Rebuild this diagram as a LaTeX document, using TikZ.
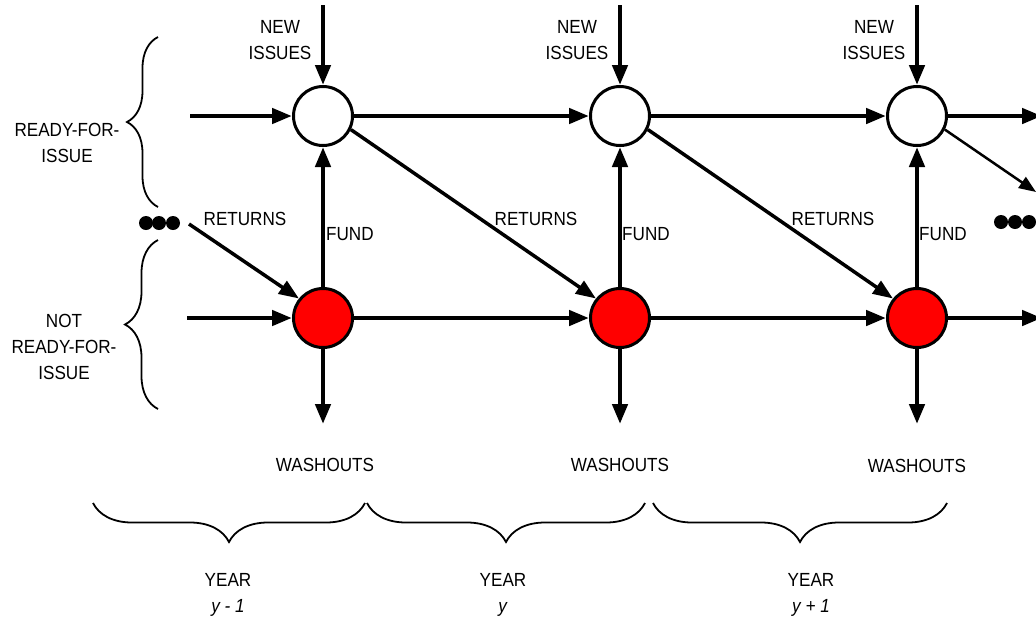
\documentclass[tikz,border=0pt]{standalone}
\usepackage{fontspec}
\setmainfont{Liberation Sans}[FakeStretch=0.9]
\usetikzlibrary{arrows.meta,decorations.pathreplacing}
\definecolor{nodered}{RGB}{255,0,0}
\tikzset{
  stock/.style={circle,draw=black,line width=3pt,minimum size=59pt,inner sep=0pt},
  readystock/.style={stock,fill=white},
  notreadystock/.style={stock,fill=nodered},
  flow/.style={line width=4.5pt,-{Triangle[length=20pt,width=15pt]}},
  retflow/.style={line width=3.5pt,-{Triangle[length=20pt,width=15pt]}},
  thinflow/.style={line width=2.5pt,-{Triangle[length=17pt,width=13pt]}},
  lbl/.style={font=\fontsize{19}{26}\selectfont,align=center,inner sep=0pt},
  bigbrace/.style={decorate,line width=1.8pt},
  dot/.style={circle,fill=black,minimum size=14pt,inner sep=0pt}
}
\begin{document}
\begin{tikzpicture}[x=1pt,y=-1pt]
\useasboundingbox (0,0) rectangle (1036,622);

% stocks
\node[readystock] (w1) at (323,116) {};
\node[readystock] (w2) at (620,116) {};
\node[readystock] (w3) at (917,116) {};
\node[notreadystock] (r1) at (323,318) {};
\node[notreadystock] (r2) at (620,318) {};
\node[notreadystock] (r3) at (917,318) {};

% free ends
\coordinate (tin) at (190,116);
\coordinate (bin) at (187,318);
\coordinate (tout) at (1042,116);
\coordinate (bout) at (1042,318);
\coordinate (n1) at (323,5);
\coordinate (n2) at (620,5);
\coordinate (n3) at (917,5);
\coordinate (o1) at (323,424);
\coordinate (o2) at (620,424);
\coordinate (o3) at (917,424);
\coordinate (retin) at (189,224);
\coordinate (retout) at (1036,192);

% dots
\node[dot] (d1) at (146,223) {};
\node[dot] (d2) at (159,223) {};
\node[dot] (d3) at (173,223) {};
\node[dot] (e1) at (1001,222) {};
\node[dot] (e2) at (1015,222) {};
\node[dot] (e3) at (1029,222) {};

% horizontal flows
\draw[flow] (tin) -- (w1);
\draw[flow] (w1) -- (w2);
\draw[flow] (w2) -- (w3);
\draw[flow] (w3) -- (tout);
\draw[flow] (bin) -- (r1);
\draw[flow] (r1) -- (r2);
\draw[flow] (r2) -- (r3);
\draw[flow] (r3) -- (bout);

% new issues
\draw[flow] (n1) -- (w1);
\draw[flow] (n2) -- (w2);
\draw[flow] (n3) -- (w3);

% fund
\draw[flow] (r1) -- (w1);
\draw[flow] (r2) -- (w2);
\draw[flow] (r3) -- (w3);

% washouts
\draw[flow] (r1) -- (o1);
\draw[flow] (r2) -- (o2);
\draw[flow] (r3) -- (o3);

% returns
\draw[retflow] (retin) -- (r1.141);
\draw[retflow] (w1.-26) -- (r2.141);
\draw[retflow] (w2.-26) -- (r3.141);
\draw[thinflow] (w3.-26) -- (retout);

% labels
\node[lbl] (ni1) at (280,40) {NEW\\ISSUES};
\node[lbl] (ni2) at (577,40) {NEW\\ISSUES};
\node[lbl] (ni3) at (874,40) {NEW\\ISSUES};
\node[lbl] (rt1) at (245,219) {RETURNS};
\node[lbl] (rt2) at (536,219) {RETURNS};
\node[lbl] (rt3) at (833,219) {RETURNS};
\node[lbl,anchor=west] (f1) at (326,234) {FUND};
\node[lbl,anchor=west] (f2) at (622,234) {FUND};
\node[lbl,anchor=west] (f3) at (919,234) {FUND};
\node[lbl] (wo1) at (325,465) {WASHOUTS};
\node[lbl] (wo2) at (620,465) {WASHOUTS};
\node[lbl] (wo3) at (917,466) {WASHOUTS};
\node[lbl] (rfi) at (67,143) {READY-FOR-\\ISSUE};
\node[lbl] (nrfi) at (64,347) {NOT\\READY-FOR-\\ISSUE};
\node[lbl] (y1) at (228,595) {YEAR\\\textit{y - 1}};
\node[lbl] (y2) at (503,595) {YEAR\\\textit{y}};
\node[lbl] (y3) at (811,595) {YEAR\\\textit{y + 1}};

% braces
\draw[bigbrace,decoration={brace,amplitude=31pt}] (158,207) -- (158,37);
\draw[bigbrace,decoration={brace,amplitude=33pt}] (158,409) -- (158,240);
\draw[bigbrace,decoration={brace,amplitude=39pt}] (365,503) -- (93,503);
\draw[bigbrace,decoration={brace,amplitude=39pt}] (645,503) -- (367,503);
\draw[bigbrace,decoration={brace,amplitude=39pt}] (947,503) -- (653,503);
\end{tikzpicture}
\end{document}
